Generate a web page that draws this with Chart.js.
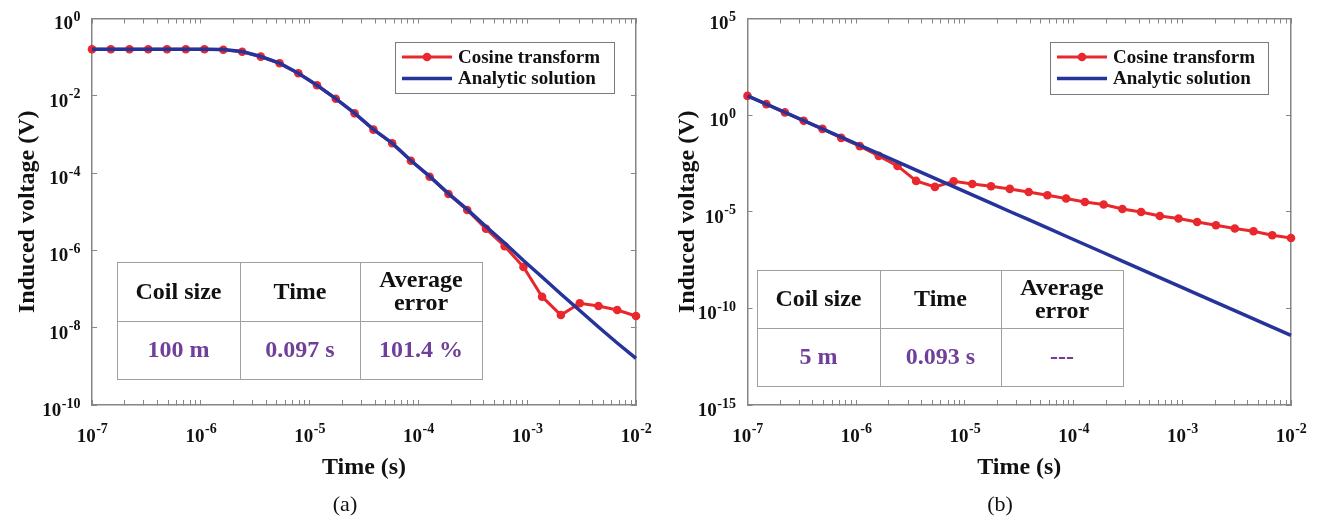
<!DOCTYPE html>
<html>
<head>
<meta charset="UTF-8" />
<title>Cosine transform vs analytic solution</title>
<script src="https://cdn.jsdelivr.net/npm/chart.js"></script>
<style>
  body { margin: 0; background: #fff; }
  .wrap { display: flex; width: 1319px; height: 520px; }
  .box { position: relative; height: 520px; }
  #boxA { width: 660px; }
  #boxB { width: 659px; }
</style>
</head>
<body>
<div class="wrap">
  <div class="box" id="boxA"><canvas id="chartA"></canvas></div>
  <div class="box" id="boxB"><canvas id="chartB"></canvas></div>
</div>
<script>
// sample times (s), shared by both panels
const times = [1.00e-7, 1.49e-7, 2.21e-7, 3.29e-7, 4.89e-7, 7.28e-7, 1.08e-6, 1.61e-6, 2.40e-6, 3.56e-6,
               5.30e-6, 7.88e-6, 1.17e-5, 1.74e-5, 2.59e-5, 3.86e-5, 5.74e-5, 8.53e-5, 1.27e-4, 1.89e-4,
               2.81e-4, 4.18e-4, 6.21e-4, 9.24e-4, 1.37e-3, 2.04e-3, 3.04e-3, 4.52e-3, 6.72e-3, 1.00e-2];

// (a) coil size 100 m
const cosineA = [0.160, 0.160, 0.160, 0.160, 0.160, 0.160, 0.160, 0.156, 0.138, 0.103,
                 0.0693, 0.0382, 0.0187, 8.41e-3, 3.52e-3, 1.33e-3, 5.90e-4, 2.09e-4, 8.07e-5, 2.88e-5,
                 1.11e-5, 3.62e-6, 1.28e-6, 3.72e-7, 6.34e-8, 2.13e-8, 4.28e-8, 3.64e-8, 2.87e-8, 2.01e-8];
const analyticA = [0.160, 0.160, 0.160, 0.160, 0.160, 0.160, 0.160, 0.157, 0.140, 0.104,
                   0.0700, 0.0385, 0.0188, 8.45e-3, 3.55e-3, 1.35e-3, 5.95e-4, 2.12e-4, 8.20e-5, 2.95e-5,
                   1.15e-5, 4.15e-6, 1.55e-6, 5.48e-7, 2.05e-7, 7.45e-8, 2.79e-8, 1.04e-8, 4.02e-9, 1.60e-9];

// (b) coil size 5 m
const cosineB = [9.9, 3.72, 1.38, 0.507, 0.195, 0.0667, 0.0248, 7.79e-3, 2.36e-3, 3.94e-4,
                 1.93e-4, 3.80e-4, 2.75e-4, 2.09e-4, 1.52e-4, 1.06e-4, 7.16e-5, 4.83e-5, 3.22e-5, 2.36e-5,
                 1.40e-5, 9.77e-6, 6.06e-6, 4.44e-6, 2.96e-6, 2.00e-6, 1.35e-6, 9.77e-7, 6.06e-7, 4.39e-7];
const analyticB = [10.0, 3.74, 1.40, 0.522, 0.195, 0.0728, 0.0272, 0.0102, 3.80e-3, 1.42e-3,
                   5.31e-4, 1.98e-4, 7.41e-5, 2.77e-5, 1.03e-5, 3.87e-6, 1.45e-6, 5.40e-7, 2.02e-7, 7.54e-8,
                   2.82e-8, 1.05e-8, 3.94e-9, 1.47e-9, 5.50e-10, 2.05e-10, 7.67e-11, 2.86e-11, 1.07e-11, 3.98e-12];

// tick labels, as powers of ten
const xTickExps = [-7, -6, -5, -4, -3, -2];
const yTickExpsA = [0, -2, -4, -6, -8, -10];
const yTickExpsB = [5, 0, -5, -10, -15];

const seriesNames = ['Cosine transform', 'Analytic solution'];
const tableHead = ['Coil size', 'Time', 'Average\nerror'];
const tableA = ['100 m', '0.097 s', '101.4 %'];
const tableB = ['5 m', '0.093 s', '---'];

const SERIF = '"Liberation Serif", "Times New Roman", serif';
const RED = '#e8282c';
const BLUE = '#25339a';
const AXIS = '#868686';

// x ticks: every decade plus the 2..9 minors
const xTickVals = [];
for (let e = xTickExps[0]; e < xTickExps[xTickExps.length - 1]; e++) {
  for (let m = 1; m < 10; m++) xTickVals.push(m * Math.pow(10, e));
}
xTickVals.push(Math.pow(10, xTickExps[xTickExps.length - 1]));

const supTicks = {
  id: 'supTicks',
  afterDraw(chart, args, o) {
    const ctx = chart.ctx;
    const xs = chart.scales.x, ys = chart.scales.y;
    const big = 'bold 19px ' + SERIF, small = 'bold 14px ' + SERIF;
    ctx.save();
    ctx.fillStyle = '#111';
    ctx.textBaseline = 'middle';
    ctx.textAlign = 'left';
    o.xExps.forEach(e => {
      const px = xs.getPixelForValue(Math.pow(10, e));
      ctx.font = big; const wb = ctx.measureText('10').width;
      ctx.font = small; const ws = ctx.measureText(String(e)).width;
      const x0 = px - (wb + ws) / 2;
      ctx.font = big; ctx.fillText('10', x0, xs.top + 32);
      ctx.font = small; ctx.fillText(String(e), x0 + wb + 0.5, xs.top + 24);
    });
    o.yExps.forEach(e => {
      const py = ys.getPixelForValue(Math.pow(10, e));
      ctx.font = big; const wb = ctx.measureText('10').width;
      ctx.font = small; const ws = ctx.measureText(String(e)).width;
      const x0 = ys.right - 12 - wb - ws;
      ctx.font = big; ctx.fillText('10', x0, py + 6);
      ctx.font = small; ctx.fillText(String(e), x0 + wb + 0.5, py - 1);
    });
    ctx.restore();
  }
};

const legendBox = {
  id: 'legendBox',
  afterDraw(chart, args, o) {
    const ctx = chart.ctx;
    ctx.save();
    ctx.fillStyle = '#fff';
    ctx.fillRect(o.x, o.y, o.w, o.h);
    ctx.strokeStyle = '#7a7a7a';
    ctx.lineWidth = 1;
    ctx.strokeRect(o.x + 0.5, o.y + 0.5, o.w, o.h);
    chart.data.datasets.forEach((ds, i) => {
      const y = o.y + 15 + i * 21.5;
      ctx.strokeStyle = ds.borderColor;
      ctx.lineWidth = ds.borderWidth;
      ctx.beginPath();
      ctx.moveTo(o.x + 7, y);
      ctx.lineTo(o.x + 57, y);
      ctx.stroke();
      if (ds.pointRadius > 0) {
        ctx.fillStyle = ds.pointBackgroundColor;
        ctx.beginPath();
        ctx.arc(o.x + 32, y, ds.pointRadius, 0, Math.PI * 2);
        ctx.fill();
      }
      ctx.fillStyle = '#111';
      ctx.font = 'bold 19px ' + SERIF;
      ctx.textAlign = 'left';
      ctx.textBaseline = 'middle';
      ctx.fillText(ds.label, o.x + 63, y + 1);
    });
    ctx.restore();
  }
};

const infoTable = {
  id: 'infoTable',
  afterDraw(chart, args, o) {
    const ctx = chart.ctx;
    const c = o.cols, r = o.rows;
    ctx.save();
    ctx.fillStyle = '#fff';
    ctx.fillRect(c[0], r[0], c[3] - c[0], r[2] - r[0]);
    ctx.strokeStyle = '#a0a0a0';
    ctx.lineWidth = 1;
    ctx.strokeRect(c[0] + 0.5, r[0] + 0.5, c[3] - c[0], r[2] - r[0]);
    ctx.beginPath();
    ctx.moveTo(c[0], r[1] + 0.5); ctx.lineTo(c[3], r[1] + 0.5);
    ctx.moveTo(c[1] + 0.5, r[0]); ctx.lineTo(c[1] + 0.5, r[2]);
    ctx.moveTo(c[2] + 0.5, r[0]); ctx.lineTo(c[2] + 0.5, r[2]);
    ctx.stroke();
    ctx.font = 'bold 24px ' + SERIF;
    ctx.textAlign = 'center';
    ctx.textBaseline = 'middle';
    o.head.forEach((h, i) => {
      const cx = (c[i] + c[i + 1]) / 2;
      const lines = h.split('\n');
      const cy = (r[0] + r[1]) / 2 + 1;
      ctx.fillStyle = '#111';
      lines.forEach((t, j) => ctx.fillText(t, cx, cy + (j - (lines.length - 1) / 2) * 23));
      ctx.fillStyle = '#6f3f9a';
      ctx.fillText(o.vals[i], cx, (r[1] + r[2]) / 2 + 1);
    });
    ctx.restore();
  }
};

const caption = {
  id: 'caption',
  afterDraw(chart, args, o) {
    const ctx = chart.ctx;
    ctx.save();
    ctx.fillStyle = '#111';
    ctx.font = '22px ' + SERIF;
    ctx.textAlign = 'center';
    ctx.textBaseline = 'middle';
    ctx.fillText(o.text, o.x, o.y);
    ctx.restore();
  }
};

function edgeGrid() {
  return { drawOnChartArea: false, drawTicks: true, tickLength: -5, color: AXIS, lineWidth: 1 };
}

function makeChart(id, cosine, analytic, yMin, yMax, yExps, vals, lay) {
  const yTickVals = yExps.map(e => Math.pow(10, e));
  const setX = s => { s.ticks = xTickVals.map(v => ({ value: v })); };
  const setY = s => { s.ticks = yTickVals.map(v => ({ value: v })); };
  const axisFont = { family: SERIF, weight: 'bold', size: 24 };
  return new Chart(document.getElementById(id), {
    type: 'line',
    data: {
      datasets: [{
        label: seriesNames[0],
        data: times.map((t, i) => ({ x: t, y: cosine[i] })),
        borderColor: RED,
        borderWidth: 3,
        pointRadius: 4.3,
        pointBackgroundColor: RED,
        pointBorderWidth: 0,
        tension: 0,
        clip: false,
        order: 1
      }, {
        label: seriesNames[1],
        data: times.map((t, i) => ({ x: t, y: analytic[i] })),
        borderColor: BLUE,
        borderWidth: 3.5,
        pointRadius: 0,
        tension: 0,
        clip: false,
        order: 0
      }]
    },
    options: {
      responsive: true,
      maintainAspectRatio: false,
      animation: false,
      layout: { padding: { left: 0, right: lay.right, top: 18.5, bottom: 0 } },
      plugins: {
        legend: { display: false },
        tooltip: { enabled: false },
        supTicks: { xExps: xTickExps, yExps: yExps },
        legendBox: lay.legend,
        infoTable: { cols: lay.cols, rows: lay.rows, head: tableHead, vals: vals },
        caption: lay.caption
      },
      scales: {
        x: {
          type: 'logarithmic', position: 'bottom', min: 1e-7, max: 1e-2,
          afterBuildTicks: setX,
          afterFit: s => { s.height = 115; },
          ticks: { display: false },
          grid: edgeGrid(),
          border: { color: AXIS, width: 1.5 },
          title: { display: true, text: 'Time (s)', color: '#111', font: axisFont, padding: { top: 0, bottom: 37.6 } }
        },
        x2: {
          type: 'logarithmic', position: 'top', min: 1e-7, max: 1e-2,
          afterBuildTicks: setX,
          afterFit: s => { s.height = 0; },
          ticks: { display: false },
          grid: edgeGrid(),
          border: { color: AXIS, width: 1.5 }
        },
        y: {
          type: 'logarithmic', position: 'left', min: yMin, max: yMax,
          afterBuildTicks: setY,
          afterFit: s => { s.width = lay.yWidth; },
          ticks: { display: false },
          grid: edgeGrid(),
          border: { color: AXIS, width: 1.5 },
          title: { display: true, text: 'Induced voltage (V)', color: '#111', font: axisFont, padding: { top: 13.6, bottom: 0 } }
        },
        y2: {
          type: 'logarithmic', position: 'right', min: yMin, max: yMax,
          afterBuildTicks: setY,
          afterFit: s => { s.width = 0; },
          ticks: { display: false },
          grid: edgeGrid(),
          border: { color: AXIS, width: 1.5 }
        }
      }
    },
    plugins: [supTicks, infoTable, legendBox, caption]
  });
}

makeChart('chartA', cosineA, analyticA, 1e-10, 1, yTickExpsA, tableA, {
  right: 24, yWidth: 92,
  legend: { x: 395, y: 42, w: 219, h: 51 },
  cols: [117, 240, 360, 482], rows: [262, 321, 379],
  caption: { text: '(a)', x: 345, y: 505 }
});

makeChart('chartB', cosineB, analyticB, 1e-15, 1e5, yTickExpsB, tableB, {
  right: 28, yWidth: 87.5,
  legend: { x: 390, y: 42, w: 218, h: 52 },
  cols: [97, 220, 341, 463], rows: [270, 328, 386],
  caption: { text: '(b)', x: 340, y: 505 }
});
</script>
</body>
</html>
